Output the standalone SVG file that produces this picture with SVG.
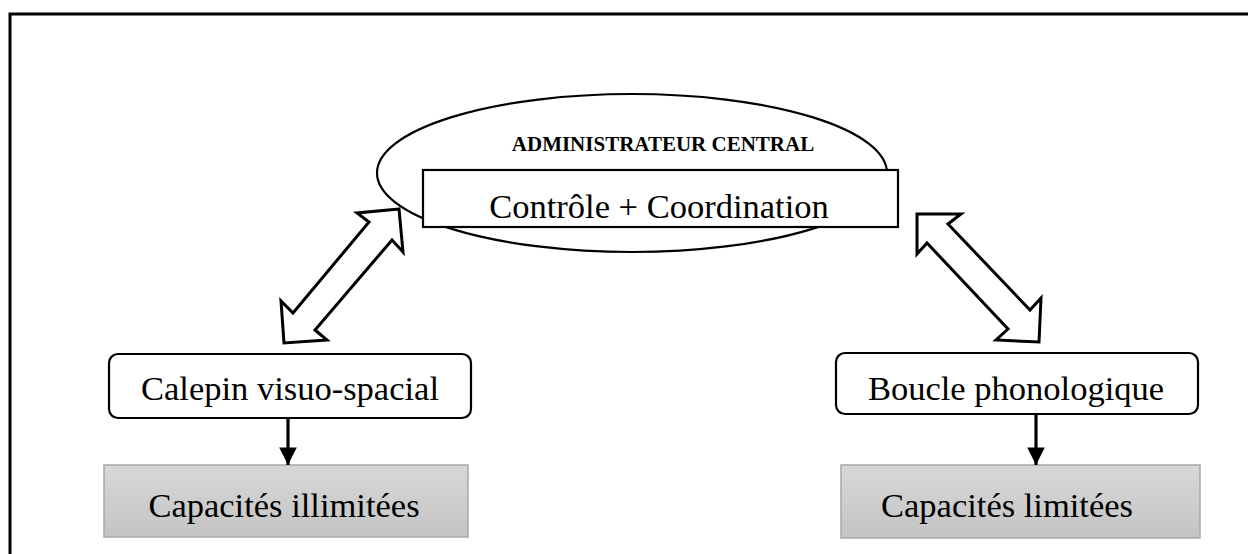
<svg xmlns="http://www.w3.org/2000/svg" width="1249" height="554" viewBox="0 0 1249 554">
  <style>
    .txt { font-family: "Liberation Serif", "Times New Roman", serif; fill: #000; text-anchor: middle; }
    .big { font-size: 34.5px; }
    .head { font-size: 21px; font-weight: bold; }
    .box { fill: #fff; stroke: #000; stroke-width: 2.2; }
    .cap { fill: url(#grey); stroke: #a8a8a8; stroke-width: 1.5; }
    .dbl { fill: #fff; stroke: #000; stroke-width: 3; stroke-linejoin: miter; }
    .link { stroke: #000; stroke-width: 3.2; fill: none; }
  </style>
  <defs>
    <linearGradient id="grey" x1="0" y1="0" x2="0" y2="1">
      <stop offset="0" stop-color="#d8d8d8"/>
      <stop offset="1" stop-color="#c4c4c4"/>
    </linearGradient>
    <marker id="head" viewBox="0 0 10 10" refX="10" refY="5" markerWidth="5.5" markerHeight="5.5" markerUnits="strokeWidth" orient="auto">
      <path d="M0,0 L10,5 L0,10 Z" fill="#000"/>
    </marker>
  </defs>

  <!-- page frame -->
  <path d="M10,554 L10,14 L1248,14" fill="none" stroke="#000" stroke-width="3"/>

  <!-- central executive -->
  <g id="administrateur">
    <ellipse cx="632" cy="173" rx="255" ry="79" fill="#fff" stroke="#000" stroke-width="2.2"/>
    <text class="txt head" x="663" y="151">ADMINISTRATEUR CENTRAL</text>
    <rect class="box" x="423" y="170" width="475" height="57"/>
    <text class="txt big" x="659" y="218">Contrôle + Coordination</text>
  </g>

  <g id="calepin">
    <rect class="box" x="109" y="354" width="362" height="64" rx="9"/>
    <text class="txt big" x="290" y="400">Calepin visuo-spacial</text>
  </g>

  <g id="boucle">
    <rect class="box" x="836" y="353" width="362" height="61" rx="9"/>
    <text class="txt big" x="1016" y="400">Boucle phonologique</text>
  </g>

  <g id="capacites-illimitees">
    <rect class="cap" x="104" y="465" width="364" height="72"/>
    <text class="txt big" x="284" y="517">Capacités illimitées</text>
  </g>

  <g id="capacites-limitees">
    <rect class="cap" x="841" y="465" width="359" height="73"/>
    <text class="txt big" x="1007" y="517">Capacités limitées</text>
  </g>

  <g id="connectors">
    <!-- two-way block arrows to the central executive -->
    <polygon class="dbl" points="399,209 357,213 369,222 293,313 281,301 284,343 327,340 315,330 392,240 403,252"/>
    <polygon class="dbl" points="917,214 961,214 948,224 1030,310 1041,298 1039,342 996,340 1008,329 927,243 917,254"/>
    <!-- capacity arrows -->
    <line class="link" x1="288" y1="418" x2="288" y2="465" marker-end="url(#head)"/>
    <line class="link" x1="1036" y1="414" x2="1036" y2="465" marker-end="url(#head)"/>
  </g>
</svg>
